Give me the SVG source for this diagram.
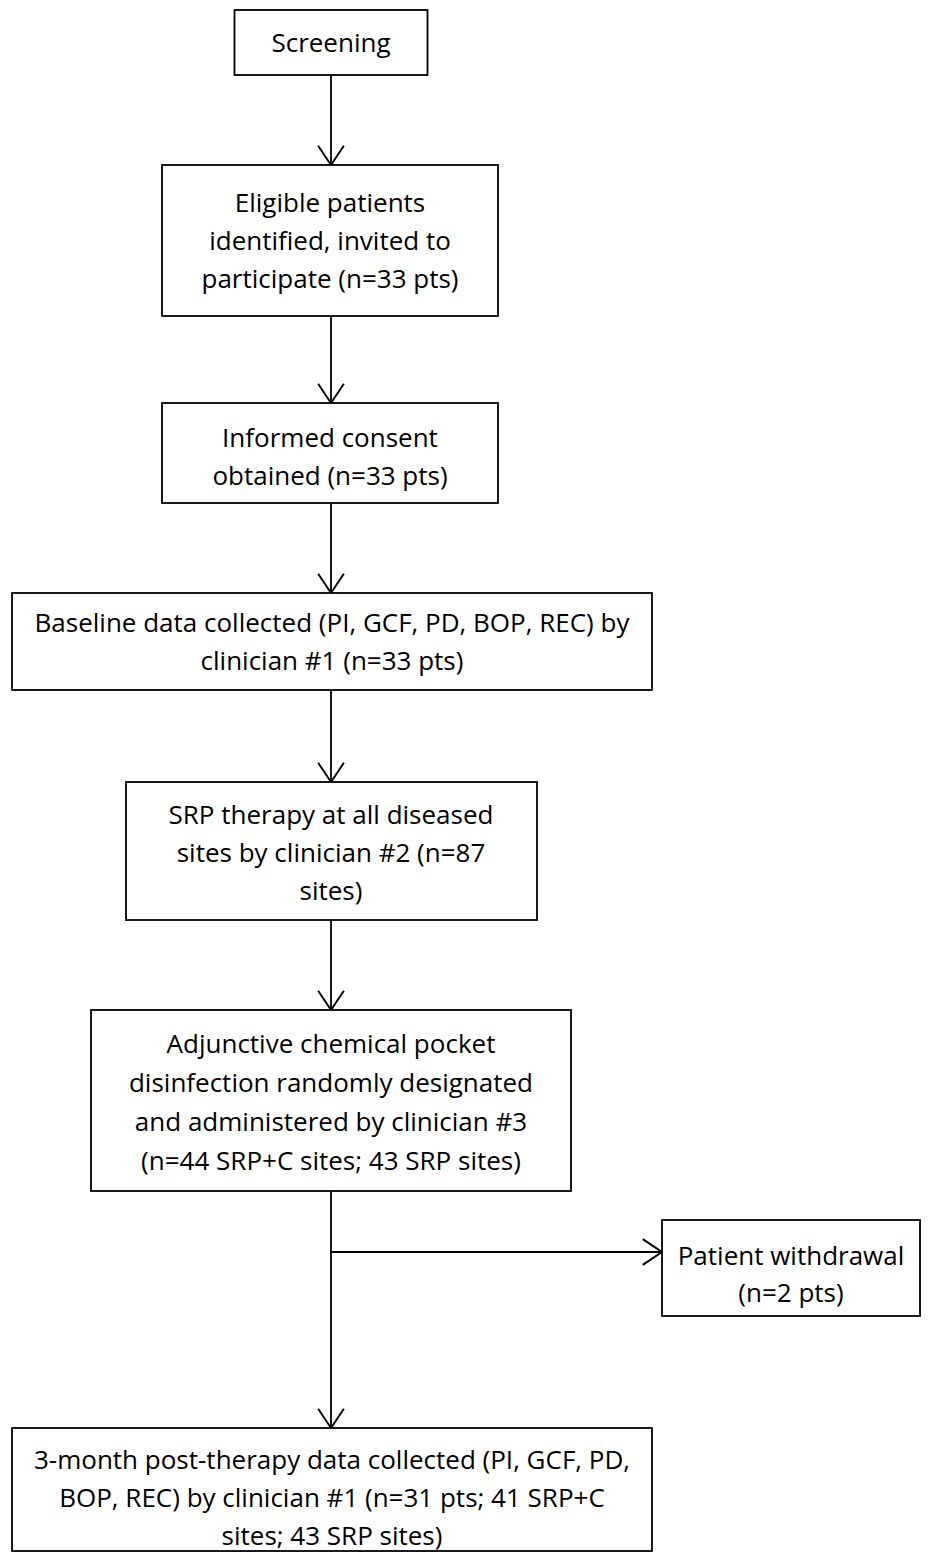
<svg xmlns="http://www.w3.org/2000/svg" width="932" height="1552" viewBox="0 0 932 1552">
<style>
.box{fill:#fff;stroke:#000;stroke-width:1.8}
.t{font-family:"Open Sans","Liberation Sans",Arial,sans-serif;font-size:26px;fill:#000;text-anchor:middle}
.c{fill:none;stroke:#000;stroke-width:1.8}
</style>
<defs>
<marker id="ah" markerUnits="userSpaceOnUse" markerWidth="30" markerHeight="30" viewBox="-20 -14 22 28" refX="0" refY="0" orient="auto">
<path d="M-18,-12 L0,0 L-18,12" fill="none" stroke="#000" stroke-width="1.8"/>
</marker>
</defs>
<rect width="932" height="1552" fill="#fff"/>
<g id="connectors">
<line class="c" x1="331" y1="75" x2="331" y2="165" marker-end="url(#ah)"/>
<line class="c" x1="331" y1="316" x2="331" y2="403" marker-end="url(#ah)"/>
<line class="c" x1="331" y1="503" x2="331" y2="593" marker-end="url(#ah)"/>
<line class="c" x1="331" y1="690" x2="331" y2="782" marker-end="url(#ah)"/>
<line class="c" x1="331" y1="920" x2="331" y2="1010" marker-end="url(#ah)"/>
<line class="c" x1="331" y1="1191" x2="331" y2="1428" marker-end="url(#ah)"/>
<line class="c" x1="331" y1="1252" x2="662" y2="1252" marker-end="url(#ah)"/>
</g>
<g id="screening">
<rect class="box" x="234.5" y="10" width="193" height="65"/>
<text class="t" x="331" y="52">Screening</text>
</g>
<g id="eligible">
<rect class="box" x="162" y="165" width="336" height="151"/>
<text class="t" x="330" y="212">Eligible patients</text>
<text class="t" x="330" y="250">identified, invited to</text>
<text class="t" x="330" y="288">participate (n=33 pts)</text>
</g>
<g id="consent">
<rect class="box" x="162" y="403" width="336" height="100"/>
<text class="t" x="330" y="447">Informed consent</text>
<text class="t" x="330" y="485">obtained (n=33 pts)</text>
</g>
<g id="baseline">
<rect class="box" x="12" y="593" width="640" height="97"/>
<text class="t" x="332" y="632">Baseline data collected (PI, GCF, PD, BOP, REC) by</text>
<text class="t" x="332" y="670">clinician #1 (n=33 pts)</text>
</g>
<g id="srp">
<rect class="box" x="126" y="782" width="411" height="138"/>
<text class="t" x="331" y="824">SRP therapy at all diseased</text>
<text class="t" x="331" y="862">sites by clinician #2 (n=87</text>
<text class="t" x="331" y="900">sites)</text>
</g>
<g id="adjunctive">
<rect class="box" x="91" y="1010" width="480" height="181"/>
<text class="t" x="331" y="1053">Adjunctive chemical pocket</text>
<text class="t" x="331" y="1092">disinfection randomly designated</text>
<text class="t" x="331" y="1131">and administered by clinician #3</text>
<text class="t" x="331" y="1170">(n=44 SRP+C sites; 43 SRP sites)</text>
</g>
<g id="withdrawal">
<rect class="box" x="662" y="1220" width="258" height="96"/>
<text class="t" x="791" y="1265">Patient withdrawal</text>
<text class="t" x="791" y="1302">(n=2 pts)</text>
</g>
<g id="posttherapy">
<rect class="box" x="12" y="1428" width="640" height="123"/>
<text class="t" x="332" y="1469">3-month post-therapy data collected (PI, GCF, PD,</text>
<text class="t" x="332" y="1507">BOP, REC) by clinician #1 (n=31 pts; 41 SRP+C</text>
<text class="t" x="332" y="1545">sites; 43 SRP sites)</text>
</g>
</svg>
